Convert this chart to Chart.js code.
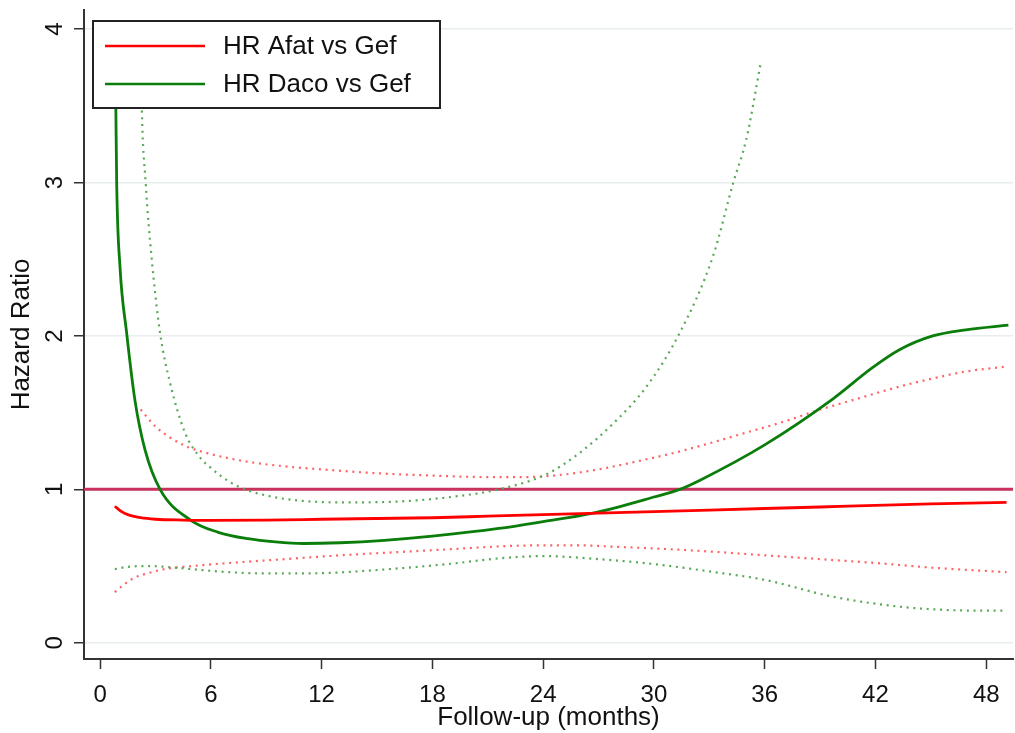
<!DOCTYPE html>
<html>
<head>
<meta charset="utf-8">
<script src="https://cdn.jsdelivr.net/npm/chart.js@4"></script>
<style>
  html, body { margin: 0; padding: 0; background: #fff; }
  #wrap { width: 1015px; height: 733px; }
</style>
</head>
<body>
<div id="wrap"><canvas id="hrChart"></canvas></div>
<script>
// axis ticks
const xTicks = [0, 6, 12, 18, 24, 30, 36, 42, 48];
const yTicks = [0, 1, 2, 3, 4];

// HR Afat vs Gef (estimate + dotted CI)
const afatT = [0.8, 1.1, 1.5, 2.2, 3, 4.5, 6, 9, 12, 15, 18, 21, 24, 27, 30, 33, 36, 39, 42, 45, 49.1];
const afatHR = [0.89, 0.86, 0.835, 0.815, 0.805, 0.80, 0.798, 0.80, 0.805, 0.81, 0.815, 0.825, 0.835, 0.845, 0.855, 0.865, 0.875, 0.885, 0.895, 0.905, 0.915];
const afatUpT = [2.2, 3, 4.5, 6, 8, 10, 12, 15, 18, 21, 23, 25, 27, 29, 31, 33, 35, 37, 39, 41, 43, 45, 47, 49.1];
const afatUp = [1.52, 1.41, 1.29, 1.23, 1.18, 1.15, 1.13, 1.105, 1.09, 1.08, 1.08, 1.095, 1.13, 1.18, 1.235, 1.30, 1.37, 1.44, 1.52, 1.59, 1.66, 1.72, 1.77, 1.80];
const afatLoT = [0.8, 1.2, 1.8, 2.5, 3.5, 5, 7, 10, 13, 16, 19, 22, 24, 26, 28, 30, 33, 36, 39, 42, 45, 49.1];
const afatLo = [0.33, 0.37, 0.42, 0.45, 0.48, 0.50, 0.52, 0.545, 0.57, 0.59, 0.61, 0.63, 0.635, 0.635, 0.625, 0.615, 0.595, 0.57, 0.545, 0.52, 0.49, 0.46];

// HR Daco vs Gef (estimate + dotted CI)
const dacoT = [0.8, 0.85, 0.9, 1.08, 1.44, 1.89, 2.44, 3.25, 4.9, 6.4, 8, 9.5, 11, 13, 15.4, 18, 21.6, 24, 26.7, 30, 31.4, 32.5, 36, 39.7, 41.8, 43.3, 45.1, 46.9, 49.2];
const dacoHR = [3.95, 3.54, 3.0, 2.45, 2.02, 1.58, 1.255, 1.0, 0.80, 0.72, 0.678, 0.657, 0.647, 0.652, 0.668, 0.695, 0.745, 0.79, 0.845, 0.95, 1.0, 1.06, 1.29, 1.59, 1.79, 1.91, 2.0, 2.04, 2.07];
const dacoUpT = [2.2, 2.25, 2.47, 2.8, 3.25, 3.8, 4.6, 5.4, 6.0, 7.0, 7.85, 9, 10.5, 13, 16, 19, 21.6, 24.2, 26, 27.8, 29.6, 31.4, 33.2, 34.3, 35, 35.8];
const dacoUp = [3.95, 3.54, 3.0, 2.5, 2.02, 1.69, 1.37, 1.21, 1.14, 1.05, 1.0, 0.96, 0.93, 0.915, 0.92, 0.95, 1.0, 1.10, 1.24, 1.43, 1.67, 2.02, 2.52, 3.0, 3.28, 3.79];
const dacoLoT = [0.8, 1.5, 2.7, 4, 5.4, 7, 9, 11, 12.6, 14.5, 16.2, 19, 21.6, 24, 27, 30, 33, 36, 39.7, 43.3, 45.1, 47, 49.1];
const dacoLo = [0.48, 0.495, 0.50, 0.49, 0.475, 0.46, 0.452, 0.452, 0.456, 0.47, 0.485, 0.515, 0.55, 0.565, 0.545, 0.513, 0.465, 0.41, 0.30, 0.235, 0.218, 0.21, 0.209];

// reference line HR = 1
const refHR = 1;

const X_MIN = -0.87, X_MAX = 49.45;
const Y_MIN = -0.106, Y_MAX = 4.125;

const RED = "#ff0000";
const GREEN = "#0a7d0a";
const RED_DOT = "#ff6262";
const GREEN_DOT = "#58a858";
const FONT = "'Liberation Sans', Arial, sans-serif";

const pts = (xs, ys) => xs.map((x, i) => ({ x: x, y: ys[i] }));

function solid(label, xs, ys, color, order) {
  return {
    label: label, data: pts(xs, ys), borderColor: color, borderWidth: 2.8,
    pointRadius: 0, cubicInterpolationMode: "monotone", order: order, fill: false, inLegend: true
  };
}
function dotted(xs, ys, color, order) {
  return {
    label: "", data: pts(xs, ys), borderColor: color, borderWidth: 2.2,
    borderDash: [2, 4.7], pointRadius: 0, cubicInterpolationMode: "monotone",
    order: order, fill: false, inLegend: false
  };
}

// legend box drawn over the lines, like the Stata one
const boxLegend = {
  id: "boxLegend",
  afterDatasetsDraw(chart) {
    const { ctx, chartArea } = chart;
    const left = chartArea.left + 9, top = chartArea.top + 11;
    const w = 347, h = 87;
    ctx.save();
    ctx.fillStyle = "#fff";
    ctx.fillRect(left, top, w, h);
    ctx.lineWidth = 2;
    ctx.strokeStyle = "#222";
    ctx.strokeRect(left, top, w, h);
    const items = chart.data.datasets.filter(d => d.inLegend);
    ctx.font = "26px " + FONT;
    ctx.textBaseline = "middle";
    ctx.fillStyle = "#111";
    items.forEach((d, i) => {
      const y = top + 25 + i * 38;
      ctx.strokeStyle = d.borderColor;
      ctx.lineWidth = 2.6;
      ctx.beginPath();
      ctx.moveTo(left + 12, y);
      ctx.lineTo(left + 112, y);
      ctx.stroke();
      ctx.fillText(d.label, left + 130, y + 1);
    });
    ctx.restore();
  }
};

const ctx = document.getElementById("hrChart").getContext("2d");
new Chart(ctx, {
  type: "line",
  data: {
    datasets: [
      solid("HR Afat vs Gef", afatT, afatHR, RED, 1),
      solid("HR Daco vs Gef", dacoT, dacoHR, GREEN, 2),
      dotted(afatUpT, afatUp, RED_DOT, 4),
      dotted(afatLoT, afatLo, RED_DOT, 4),
      dotted(dacoUpT, dacoUp, GREEN_DOT, 3),
      dotted(dacoLoT, dacoLo, GREEN_DOT, 3),
      {
        label: "", data: pts([X_MIN, X_MAX], [refHR, refHR]), borderColor: "#c8325c",
        borderWidth: 3, pointRadius: 0, order: 5
      }
    ]
  },
  options: {
    responsive: true,
    maintainAspectRatio: false,
    animation: false,
    layout: { padding: { top: 10, right: 2, left: 0, bottom: 0 } },
    plugins: { legend: { display: false }, tooltip: { enabled: false } },
    scales: {
      x: {
        type: "linear", min: X_MIN, max: X_MAX,
        afterBuildTicks: s => { s.ticks = xTicks.map(v => ({ value: v })); },
        afterFit: s => { s.height = 74; s.paddingLeft = 0; s.paddingRight = 0; },
        grid: { drawOnChartArea: false, tickLength: 10, tickColor: "#333", tickWidth: 1.5 },
        border: { display: true, color: "#333", width: 2 },
        ticks: { color: "#111", padding: 12, font: { size: 24, family: FONT }, maxRotation: 0 },
        title: {
          display: true, text: "Follow-up (months)", color: "#111",
          font: { size: 26, family: FONT },
          padding: { top: 0, bottom: 0 }
        }
      },
      y: {
        type: "linear", min: Y_MIN, max: Y_MAX,
        afterBuildTicks: s => { s.ticks = yTicks.map(v => ({ value: v })); },
        afterFit: s => { s.width = 84; s.paddingTop = 0; s.paddingBottom = 0; },
        grid: { color: "#e8eded", lineWidth: 1.5, tickLength: 10, tickColor: "#333", tickWidth: 1.5 },
        border: { display: true, color: "#333", width: 2 },
        ticks: {
          color: "#111", padding: 12, crossAlign: "center", minRotation: 90, maxRotation: 90,
          font: { size: 24, family: FONT }
        },
        title: {
          display: true, text: "Hazard Ratio", color: "#111",
          font: { size: 26, family: FONT },
          padding: { top: 6, bottom: 0 }
        }
      }
    }
  },
  plugins: [boxLegend]
});
</script>
</body>
</html>
